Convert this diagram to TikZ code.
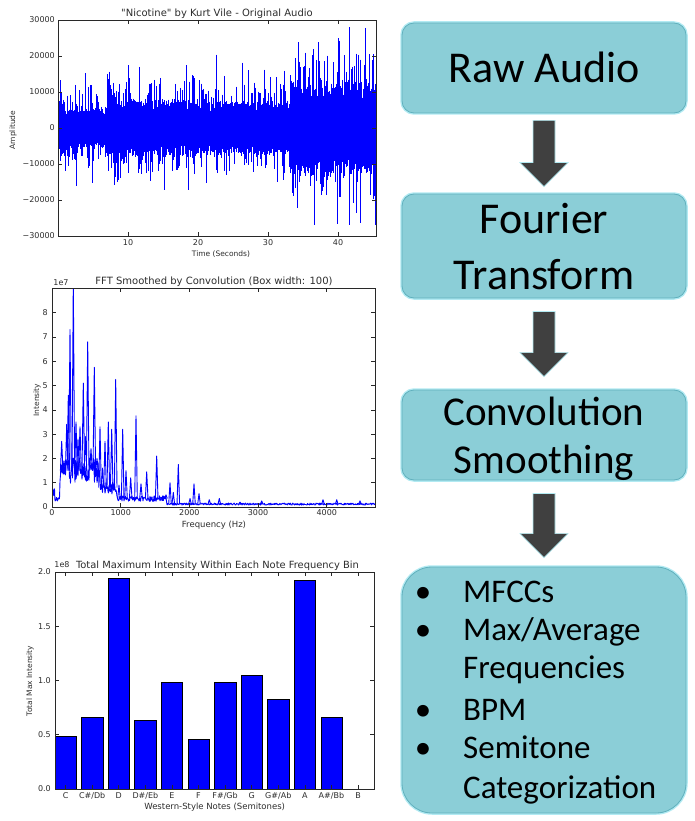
\documentclass[tikz,border=0pt]{standalone}
\usepackage{fontspec}
\newfontfamily\mplfont{DejaVu Sans}
\newfontfamily\boxfont{Carlito}
\usetikzlibrary{calc}
\definecolor{boxfill}{RGB}{139,206,215}
\definecolor{boxedge}{RGB}{96,176,189}
\definecolor{glowc}{RGB}{178,234,242}
\definecolor{arrowfill}{RGB}{64,64,64}
\definecolor{mplblue}{RGB}{0,0,255}
\definecolor{axcol}{RGB}{40,40,40}
\definecolor{txtcol}{RGB}{45,45,45}
\newcommand\flowarrow[5]{%
  \path (#1.south) ++(0,#4) coordinate (#3s) (#2.north) ++(0,-#5) coordinate (#3e);
  \filldraw[arrowbody] ($(#3s)+(-11,0)$) -- ($(#3s)+(11,0)$) -- ($(#3e)+(11,-24)$) -- ($(#3e)+(24,-24)$) -- (#3e) -- ($(#3e)+(-24,-24)$) -- ($(#3e)+(-11,-24)$) -- cycle;
}
\begin{document}
\begin{tikzpicture}[x=1pt,y=-1pt,
  declare function={ff(\t)=(\t<55)*0.6+(\t>=55)*(\t<60)*0.3+(\t>=60)*(\t<100)*1.5+(\t>=100)*(\t<117)*0.8+(\t>=117)*(\t<167)*0.35+(\t>=167)*0.12;},
  frame/.style={draw=axcol, line width=0.8pt},
  tick/.style={draw=axcol, line width=0.6pt},
  ticklbl/.style={font=\mplfont\fontsize{8}{9}\selectfont, text=txtcol, inner sep=0pt},
  axlbl/.style={font=\mplfont\fontsize{7.5}{9}\selectfont, text=txtcol, inner sep=0pt},
  ttl/.style={font=\mplfont\fontsize{10}{12}\selectfont, text=txtcol, inner sep=0pt},
  wave/.style={draw=mplblue, line width=0.5pt},
  fftline/.style={draw=mplblue, line width=0.9pt, line join=round},
  barstyle/.style={fill=mplblue, draw=black, line width=0.5pt},
  stage/.style={draw=boxedge, fill=boxfill, line width=0.8pt, rounded corners=12pt, minimum width=284pt, inner sep=0pt, preaction={draw=glowc, line width=3.5pt}},
  arrowbody/.style={fill=arrowfill, draw=glowc, line width=0.7pt, line join=miter},
  stagetxt/.style={font=\boxfont\fontsize{44}{56}\selectfont, inner sep=0pt, anchor=base},
  itemtxt/.style={font=\boxfont\fontsize{33}{40}\selectfont, inner sep=0pt, anchor=base west},
  bullettxt/.style={font=\boxfont\fontsize{33}{40}\selectfont, inner sep=0pt, anchor=base}
]
\fill[white] (0,0) rectangle (695,821);
\useasboundingbox (0,0) rectangle (695,821);
\pgfmathsetseed{11}

% ---------------- Plot 1: waveform ----------------
\foreach \x in {58.5,59,...,375.5} {
  \pgfmathsetmacro\E{(\x<65)*8+(\x>=65)*(\x<107)*5.5+(\x>=107)*(\x<198)*8+(\x>=198)*(\x<290)*7.5+(\x>=290)*13.5}
  \pgfmathsetmacro\u{min(28,\E*(0.6+0.4*rnd)+(rnd<0.3)*\E*0.9*rnd+(rnd<0.035)*\E*1.2)}
  \pgfmathsetmacro\d{min(27,\E*(0.6+0.4*rnd)+(rnd<0.3)*\E*0.9*rnd+(rnd<0.035)*\E*1.2)}
  \draw[wave] (\x,{128-3.6*\u}) -- (\x,{128+3.6*\d});
}
\draw[frame] (58,20) rectangle (376,236);
\foreach \a/\lab [count=\k] in {30/30000,20/20000,10/10000,0/0,-10/−10000,-20/−20000,-30/−30000} {
  \draw[tick] (58,{128-3.6*\a}) -- ++(4,0);
  \draw[tick] (376,{128-3.6*\a}) -- ++(-4,0);
  \node[ticklbl, anchor=east] (ay\k) at (55,{128-3.6*\a}) {\lab};
}
\foreach \t [count=\k] in {10,20,30,40} {
  \draw[tick] ({58+7*\t},236) -- ++(0,-4);
  \draw[tick] ({58+7*\t},20) -- ++(0,4);
  \node[ticklbl] (ax\k) at ({58+7*\t},243) {\t};
}
\node[ttl] (atitle) at (217,14) {"Nicotine" by Kurt Vile - Original Audio};
\node[axlbl] (axlab) at (221,254) {Time (Seconds)};
\node[axlbl, rotate=90] (aylab) at (13,130) {Amplitude};

% ---------------- Plot 2: FFT ----------------
\begin{scope}
\clip (52,288) rectangle (375,507);
\draw[fftline] (52,{507-24.3*0.7}) \foreach \x in {52.5,53,...,375} { -- (\x,{507-24.3*ff(\x)*(0.65+0.7*rnd)}) };
\foreach \p/\v in {61.7/2.7, 64/1.9, 66.7/3.4, 68.3/4.6, 70/7.3, 73.3/9.3, 76/3.5, 78/2.8, 80/3.3, 83.3/5.1, 85.5/2.9, 87.7/6.8, 91/2.4, 94.3/5.75, 97/2.0, 100/3.3, 102.5/1.6, 105/2.7, 108.3/3.5, 111.7/3.2, 115.7/5.25, 119/0.9, 122.7/3.2, 126/1.5, 130.7/1.2, 136/3.75, 141/0.95, 146.7/1.45, 156.7/2.1, 160/0.4, 163.3/0.45, 166/0.5, 170/1.0, 173.3/0.6, 178.3/1.75, 190/0.35, 194/0.95, 199/0.55, 209.3/0.3, 219.3/0.35, 240/0.2, 243/0.15, 261.7/0.25, 275/0.15, 323/0.3, 336.7/0.3, 345/0.15, 360/0.25, 366/0.15} {
  \draw[fftline] ({\p-1.3},{507-24.3*ff(\p)}) -- (\p,{507-24.3*\v}) -- ({\p+1.3},{507-24.3*ff(\p)});
}
\end{scope}
\draw[frame] (52,288) rectangle (375,507);
\foreach \k in {0,...,8} {
  \draw[tick] (52,{507-24.3*\k}) -- ++(4,0);
  \draw[tick] (375,{507-24.3*\k}) -- ++(-4,0);
  \node[ticklbl, anchor=east] (by\k) at (48,{507-24.3*\k}) {\k};
}
\foreach \f [count=\k] in {0,1000,2000,3000,4000} {
  \draw[tick] ({52+0.0687*\f},507) -- ++(0,-4);
  \draw[tick] ({52+0.0687*\f},288) -- ++(0,4);
  \node[ticklbl] (bx\k) at ({52+0.0687*\f},513) {\f};
}
\node[ticklbl] (bexp) at (61,283) {1e7};
\node[ttl] (btitle) at (214,282) {FFT Smoothed by Convolution (Box width: 100)};
\node[axlbl, font=\mplfont\fontsize{8.5}{10}\selectfont] (bxlab) at (214,525) {Frequency (Hz)};
\node[axlbl, rotate=90] (bylab) at (37,400) {Intensity};

% ---------------- Plot 3: bars ----------------
\foreach \i/\v in {0/0.49, 1/0.66, 2/1.94, 3/0.63, 4/0.98, 5/0.455, 6/0.98, 7/1.045, 8/0.83, 9/1.92, 10/0.665} {
  \draw[barstyle] ({55+26.58*\i},789) rectangle ({55+26.58*\i+21.27},{789-108.5*\v});
}
\draw[frame] (55,572) rectangle (374,789);
\foreach \v/\lab [count=\k] in {0/0.0,0.5/0.5,1/1.0,1.5/1.5,2/2.0} {
  \draw[tick] (55,{789-108.5*\v}) -- ++(4,0);
  \draw[tick] (374,{789-108.5*\v}) -- ++(-4,0);
  \node[ticklbl, anchor=east] (cy\k) at (51,{789-108.5*\v}) {\lab};
}
\foreach \i/\n in {0/C, 1/{C\#/Db}, 2/D, 3/{D\#/Eb}, 4/E, 5/F, 6/{F\#/Gb}, 7/G, 8/{G\#/Ab}, 9/A, 10/{A\#/Bb}, 11/B} {
  \draw[tick] ({55+26.58*\i+10.635},789) -- ++(0,-4);
  \draw[tick] ({55+26.58*\i+10.635},572) -- ++(0,4);
  \node[ticklbl] (cx\i) at ({55+26.58*\i+10.635},796) {\n};
}
\node[ticklbl] (cexp) at (62,565) {1e8};
\node[ttl, font=\mplfont\fontsize{9.9}{12}\selectfont] (ctitle) at (217.5,566) {Total Maximum Intensity Within Each Note Frequency Bin};
\node[axlbl, font=\mplfont\fontsize{8.5}{10}\selectfont] (cxlab) at (214.7,807) {Western-Style Notes (Semitones)};
\node[axlbl, rotate=90] (cylab) at (30,681) {Total Max Intensity};

% ---------------- Flow boxes ----------------
\node[stage, minimum height=90pt] (b1) at (544,68) {};
\node[stage, minimum height=104pt] (b2) at (544,246) {};
\node[stage, minimum height=90pt] (b3) at (544,435) {};
\node[stage, minimum height=246pt, rounded corners=30pt] (b4) at (544,690) {};

\flowarrow{b1}{b2}{f1}{7}{7}
\flowarrow{b2}{b3}{f2}{13}{13}
\flowarrow{b3}{b4}{f3}{13}{9}

\node[stagetxt] (t1) at (544,83) {Raw Audio};
\node[stagetxt] (t2a) at (544,233) {Fourier};
\node[stagetxt] (t2b) at (544,289) {Transform};
\node[stagetxt, font=\boxfont\fontsize{41}{48}\selectfont] (t3a) at (544,425) {Convolution};
\node[stagetxt, font=\boxfont\fontsize{41}{48}\selectfont] (t3b) at (544,473) {Smoothing};

\node[bullettxt] (d1) at (423,602) {•};
\node[bullettxt] (d2) at (423,640) {•};
\node[bullettxt] (d3) at (423,720) {•};
\node[bullettxt] (d4) at (423,758) {•};
\node[itemtxt] (i1) at (463,602) {MFCCs};
\node[itemtxt] (i2) at (463,640) {Max/Average};
\node[itemtxt] (i2b) at (463,678) {Frequencies};
\node[itemtxt] (i3) at (463,720) {BPM};
\node[itemtxt] (i4) at (463,758) {Semitone};
\node[itemtxt] (i4b) at (463,798) {Categorization};
\end{tikzpicture}
\end{document}
